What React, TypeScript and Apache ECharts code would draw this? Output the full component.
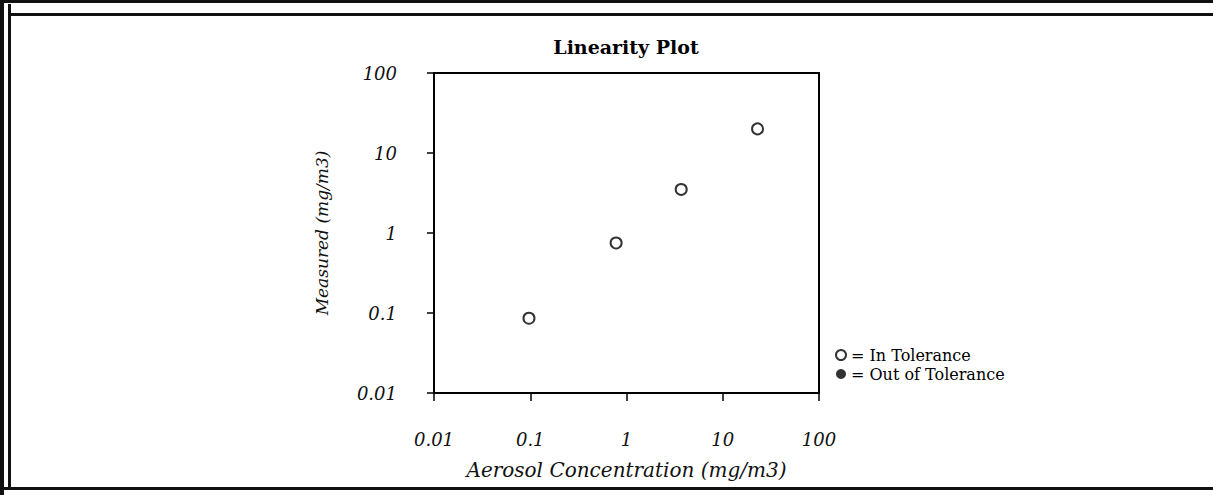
import React, { useEffect, useRef } from "react";
import * as echarts from "echarts";

const title = "Linearity Plot";
const xName = "Aerosol Concentration (mg/m3)";
const yName = "Measured (mg/m3)";
const aerosol = [0.097, 0.78, 3.7, 23];
const measured = [0.086, 0.75, 3.5, 20];
const outAerosol: number[] = [];
const outMeasured: number[] = [];
const legendNames = ["In Tolerance", "Out of Tolerance"];

const serif = "'DejaVu Serif', 'Liberation Serif', serif";

export default function App() {
  const ref = useRef<HTMLDivElement>(null);
  useEffect(() => {
    if (!ref.current) return;
    const chart = echarts.init(ref.current, null, { renderer: "svg" });
    const inPts = aerosol.map((x, i) => [x, measured[i]]);
    const outPts = outAerosol.map((x, i) => [x, outMeasured[i]]);
    const axisCommon = {
      type: "log" as const,
      logBase: 10,
      min: 0.01,
      max: 100,
      splitLine: { show: false },
      minorTick: { show: false },
      axisLine: { show: true, lineStyle: { color: "#000", width: 2 } },
      axisLabel: {
        color: "#111",
        fontFamily: serif,
        fontStyle: "italic" as const,
        fontSize: 18,
        formatter: (v: number) => String(+v.toPrecision(2)),
      },
    };
    chart.setOption({
      animation: false,
      backgroundColor: "#fff",
      title: {
        text: title,
        left: 621,
        top: 32,
        textAlign: "center",
        textStyle: { fontFamily: serif, fontWeight: "bold", fontSize: 19, color: "#000" },
      },
      grid: {
        left: 434,
        right: 394,
        top: 73,
        bottom: 102,
        show: true,
        borderColor: "#000",
        borderWidth: 2,
      },
      xAxis: {
        ...axisCommon,
        name: xName,
        nameLocation: "middle",
        nameGap: 67,
        nameTextStyle: { color: "#111", fontFamily: serif, fontStyle: "italic", fontSize: 20 },
        axisTick: { show: true, inside: false, length: 8, lineStyle: { color: "#000", width: 1.5 } },
        axisLabel: { ...axisCommon.axisLabel, margin: 37 },
      },
      yAxis: {
        ...axisCommon,
        name: yName,
        nameLocation: "middle",
        nameGap: 104,
        nameTextStyle: { color: "#111", fontFamily: serif, fontStyle: "italic", fontSize: 17 },
        axisTick: { show: true, inside: false, length: 7, lineStyle: { color: "#000", width: 1.5 } },
        axisLabel: { ...axisCommon.axisLabel, margin: 37 },
      },
      legend: {
        orient: "vertical",
        left: 835,
        top: 347,
        itemWidth: 10,
        itemHeight: 10,
        itemGap: 3,
        padding: 0,
        formatter: (n: string) => "= " + n,
        textStyle: { fontFamily: serif, fontSize: 16, lineHeight: 16, color: "#000" },
        data: [
          { name: legendNames[0], icon: "emptyCircle", itemStyle: { color: "#000", borderWidth: 2 } },
          { name: legendNames[1], icon: "circle", itemStyle: { color: "#000" } },
        ],
      },
      series: [
        {
          name: legendNames[0],
          type: "scatter",
          symbol: "emptyCircle",
          symbolSize: 11,
          itemStyle: { color: "#000", borderWidth: 2.5 },
          data: inPts,
        },
        {
          name: legendNames[1],
          type: "scatter",
          symbol: "circle",
          symbolSize: 11,
          itemStyle: { color: "#000" },
          data: outPts,
        },
      ],
      graphic: [
        { type: "rect", shape: { x: 0, y: 0, width: 4, height: 495 }, style: { fill: "#111" } },
        { type: "rect", shape: { x: 8, y: 4, width: 3, height: 486 }, style: { fill: "#111" } },
        { type: "rect", shape: { x: 0, y: 0, width: 1213, height: 3 }, style: { fill: "#111" } },
        { type: "rect", shape: { x: 8, y: 13, width: 1205, height: 3 }, style: { fill: "#111" } },
        { type: "rect", shape: { x: 0, y: 487, width: 1213, height: 3 }, style: { fill: "#111" } },
      ],
    });
    return () => chart.dispose();
  }, []);
  return (
    <div
      ref={ref}
      style={{ position: "fixed", left: 0, top: 0, width: 1213, height: 495 }}
    />
  );
}
